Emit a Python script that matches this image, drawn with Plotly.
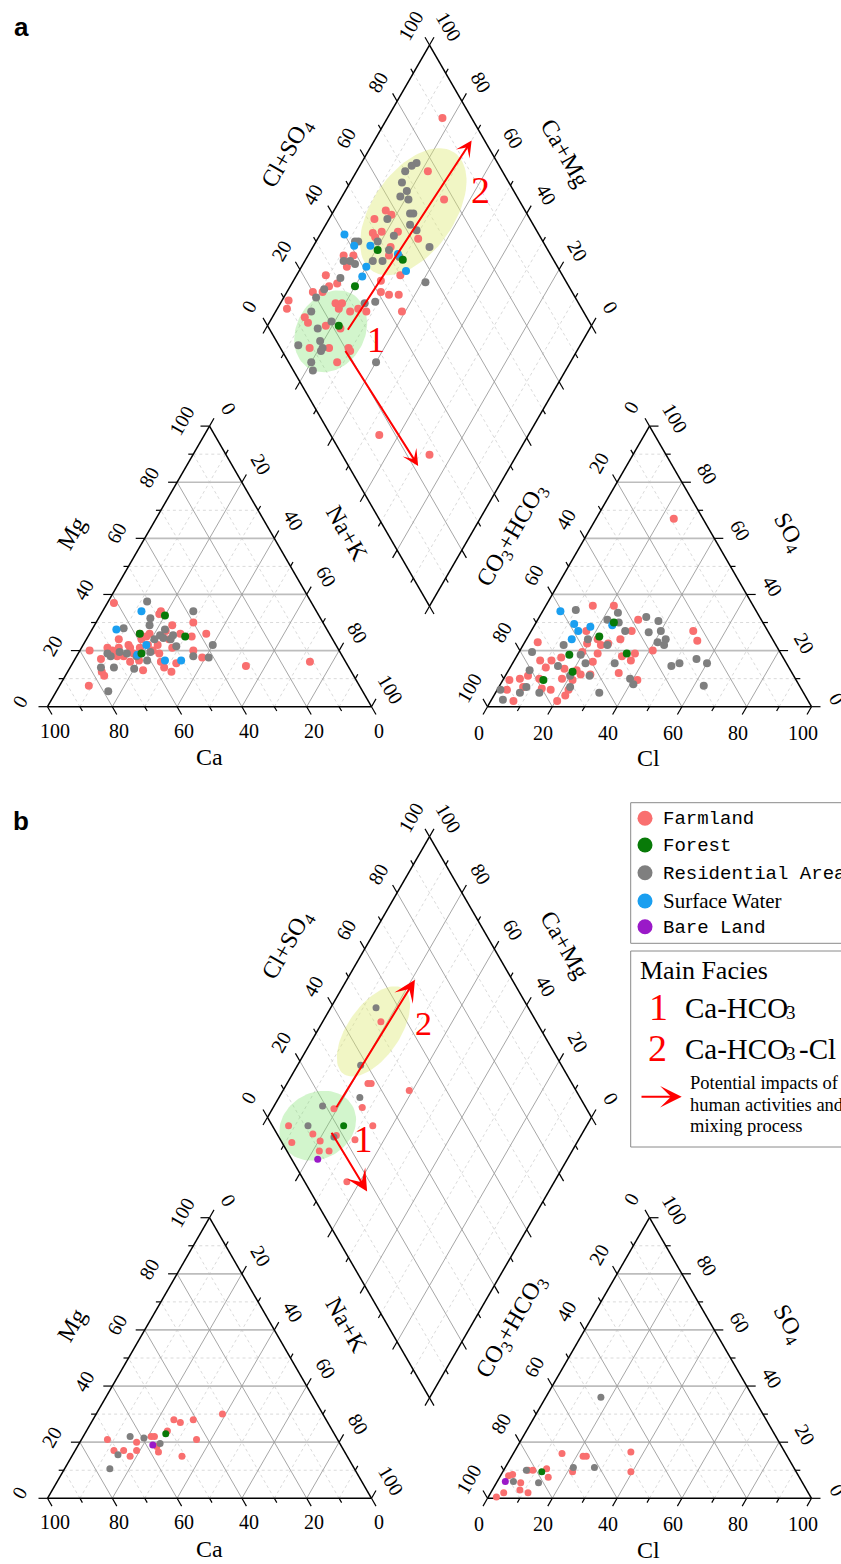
import numpy as np
import plotly.graph_objects as go

# ===================== DATA (percent of meq/L) =====================
# Cation triangle: (Mg, Na+K)   -> Ca = 100 - Mg - (Na+K)
# Anion triangle:  (SO4, Cl)    -> CO3+HCO3 = 100 - SO4 - Cl
# Diamond:         (Cl+SO4, Na+K)

# ---------- panel a ----------
A_CAT_FARMLAND = [(37, 2), (33, 18), (34, 18), (30, 30), (24, 10), (26, 36), (25, 32), (20, 3), (21, 8),
                  (17, 8), (21, 15), (24, 17), (25, 18), (16, 17.5), (11, 12), (12.5, 10.5), (7.5, 9),
                  (13, 23), (16, 27), (14, 29), (12.5, 32), (15.5, 32), (26, 28), (20, 35), (17.5, 39),
                  (14.5, 54), (20, 22.5), (19, 25), (19, 17), (18, 14.5), (21, 18), (22, 14), (26, 18.5),
                  (26, 15.5), (27, 23), (24, 25.5), (21, 28), (22, 23), (22, 20), (20, 10), (18, 12.5),
                  (16.5, 20), (21, 11.5), (29, 24), (16, 73)]
A_CAT_RESIDENTIAL = [(37.5, 12), (34, 28), (28, 9.5), (29, 17), (31.5, 16), (25.5, 22), (25.5, 26), (22, 40),
                     (18, 36), (17.5, 41), (18, 10.5), (19.5, 12.5), (14, 9.5), (14, 13.5), (13.5, 20),
                     (5.5, 16), (19.5, 22), (24, 21), (24.5, 23.5), (21.5, 29), (24, 26), (18, 18.5),
                     (16.5, 22.5), (19, 15), (19, 9), (27.5, 22.5)]
A_CAT_SURFACE = [(34, 12), (27.5, 7.5), (16.5, 28), (16.5, 33), (22, 19.5), (18.5, 18.5)]
A_CAT_FOREST = [(32.5, 20), (25, 30), (26, 15.5), (19, 19.5)]
A_CAT_BARE = []

A_AN_FARMLAND = [(36, 14.5), (36, 21), (31, 31), (27, 31), (27, 50), (23.5, 53), (23, 4), (27, 17), (24, 22),
                 (22.5, 26), (24, 29), (19.5, 19.5), (19, 24.5), (18, 32.5), (19, 36), (16.5, 36), (20, 41),
                 (12, 34.5), (9.5, 41.5), (16.5, 8), (14, 11), (16.5, 11.5), (17.5, 14), (13.5, 17), (10, 18),
                 (6, 22), (4, 22), (2, 20.5), (10, 11), (11, 7), (10, 5), (9.5, 2), (6, 3), (2, 7), (7, 7.5),
                 (6.5, 13.5), (6, 16.5), (13, 21), (11.5, 23), (11.5, 26), (9.5, 21.5), (16, 24.5),
                 (22.5, 19.5), (22, 24), (67, 24)]
A_AN_RESIDENTIAL = [(34.5, 10), (33.5, 23.5), (31, 21.5), (30, 25.5), (32, 33), (30.5, 37.5), (27, 29),
                    (26.5, 36.5), (27, 40), (23, 41), (24, 43), (22, 43.5), (17, 56), (15.5, 60), (14.5, 49.5),
                    (15.5, 51.5), (7.5, 63), (22, 12.5), (19.5, 4), (24, 19), (18.5, 19.5), (15.5, 22.5),
                    (14.5, 14.5), (13, 6.5), (11, 20), (11, 26), (15.5, 31.5), (10, 39), (8, 41), (5, 32),
                    (6, 1), (2.5, 3.5), (5, 7.5), (7, 8.5), (5, 13.5), (7, 22), (22, 26)]
A_AN_SURFACE = [(34, 5.5), (29.5, 12), (28.5, 17.5), (27, 14.5), (24, 14), (29, 24)]
A_AN_FOREST = [(30, 24), (25, 22), (19, 33.5), (18.5, 16), (12.5, 20), (9.5, 12.5)]
A_AN_BARE = []

A_DIA_FARMLAND = [(91, 17), (77, 22), (77, 32), (52, 14), (57, 16), (49, 16), (52, 18.5), (49, 17.5),
                  (58, 18.5), (57, 23.5), (62, 31), (50, 25), (36, 11), (39, 14), (35, 14), (27, 9), (29, 14),
                  (26, 12), (23, 11), (20, 8), (11, 2), (9, 3), (25, 17), (27, 19), (25, 19), (28, 23),
                  (31, 25), (33, 28), (41, 29), (43, 32), (46, 35), (43, 27), (44, 39), (50, 32), (13, 10),
                  (13, 12), (18, 18), (22, 23), (21, 29), (9, 17), (15, 23), (52, 24), (15, 54), (27, 73),
                  (21, 30), (15, 28)]
A_DIA_RESIDENTIAL = [(75, 17), (73, 16), (70, 15), (67, 16), (67, 19), (64, 18), (66, 21), (64, 24), (65, 25),
                     (62, 26), (63, 29), (64, 36), (55, 23), (56, 18), (49, 19), (51, 24), (44, 21), (47, 24),
                     (53, 28.5), (43, 13), (42, 12), (35, 12), (37, 14), (38, 16), (31, 14), (24, 11), (20, 10),
                     (16, 11), (15, 16), (20.5, 19), (6, 13), (13, 21), (13.5, 19), (7, 20), (27, 40),
                     (37.5, 29), (56.5, 41), (34, 26), (6, 22), (12, 21)]
A_DIA_SURFACE = [(40, 7.5), (41, 12.5), (46, 17.5), (41, 20), (38, 20.5), (53, 27.5), (52.5, 33)]
A_DIA_FOREST = [(47.5, 20.5), (53.5, 30), (34, 20), (22, 22)]
A_DIA_BARE = []

# ---------- panel b ----------
B_CAT_FARMLAND = [(21, 8), (17, 12), (17, 15), (15, 18), (20, 17.5), (17, 19), (22, 21), (22, 22), (18.5, 24.5),
                  (16.5, 26), (24, 25), (28, 25), (27, 27.5), (28, 31), (30, 39), (21, 35.5), (15, 34)]
B_CAT_RESIDENTIAL = [(15.5, 14), (10.5, 14), (22, 14.5), (21.5, 19), (19.5, 25)]
B_CAT_SURFACE = []
B_CAT_FOREST = [(23, 25)]
B_CAT_BARE = [(19, 23)]

B_AN_FARMLAND = [(16, 15), (15, 22), (15, 23), (16.5, 36), (9.5, 39.5), (9.5, 21.5), (10.5, 13), (7.5, 15),
                 (10, 7.5), (10, 9), (5.5, 7.5), (3, 8.5), (2, 11.5), (8, 2.5), (8.5, 3.5), (0.5, 2.5), (2, 4)]
B_AN_RESIDENTIAL = [(36, 17), (11, 21), (11, 27.5), (10, 7), (5.5, 13), (6, 5)]
B_AN_SURFACE = []
B_AN_FOREST = [(9.5, 12)]
B_AN_BARE = [(6, 2.5)]

B_DIA_FARMLAND = [(52, 18), (37, 25), (38, 26), (48.5, 39), (31, 27.5), (22, 19), (5, 8), (31, 34), (18, 24.5),
                  (11, 17), (3, 12), (12, 20.5), (23, 31), (10, 22), (13, 25), (13, 36)]
B_DIA_RESIDENTIAL = [(53, 14), (38, 19.5), (32, 25), (19, 15), (11, 14), (17, 24)]
B_DIA_SURFACE = []
B_DIA_FOREST = [(22, 25)]
B_DIA_BARE = [(8, 23)]

GROUPS = ["Farmland", "Forest", "Residential Area", "Surface Water", "Bare Land"]
COLORS = {"Farmland": "#F96F6F", "Forest": "#087A08", "Residential Area": "#7F7F7F",
          "Surface Water": "#1A9FF0", "Bare Land": "#9A19C8"}

PANEL_DATA = {
    "a": {"Farmland": (A_CAT_FARMLAND, A_AN_FARMLAND, A_DIA_FARMLAND),
          "Residential Area": (A_CAT_RESIDENTIAL, A_AN_RESIDENTIAL, A_DIA_RESIDENTIAL),
          "Surface Water": (A_CAT_SURFACE, A_AN_SURFACE, A_DIA_SURFACE),
          "Forest": (A_CAT_FOREST, A_AN_FOREST, A_DIA_FOREST),
          "Bare Land": (A_CAT_BARE, A_AN_BARE, A_DIA_BARE)},
    "b": {"Farmland": (B_CAT_FARMLAND, B_AN_FARMLAND, B_DIA_FARMLAND),
          "Residential Area": (B_CAT_RESIDENTIAL, B_AN_RESIDENTIAL, B_DIA_RESIDENTIAL),
          "Surface Water": (B_CAT_SURFACE, B_AN_SURFACE, B_DIA_SURFACE),
          "Forest": (B_CAT_FOREST, B_AN_FOREST, B_DIA_FOREST),
          "Bare Land": (B_CAT_BARE, B_AN_BARE, B_DIA_BARE)},
}
DRAW_ORDER = ["Farmland", "Residential Area", "Surface Water", "Forest", "Bare Land"]

# facies annotations in diamond coordinates (Cl+SO4, Na+K)
ARROWS = {"a": [((23.5, 25.5), (96, 30)), ((19.5, 28), (21.5, 71.5))],
          "b": [((22.5, 19.5), (70, 21)), ((17, 22), (17.5, 44))]}
ELLIPSES = {"a": [((18.5, 20.5), 43, 34, 60, "rgba(125,225,110,0.35)"),
                  ((65.3, 24.7), 72, 41, 55, "rgba(220,232,110,0.40)")],
            "b": [((14, 17), 40, 33, 30, "rgba(125,225,110,0.35)"),
                  ((48, 17.4), 52, 26, 55, "rgba(220,232,110,0.40)")]}
FACIES_LABELS = {"a": [("1", (31, 36), 36), ("2", (90, 41.5), 38)],
                 "b": [("1", (25.5, 33.5), 37), ("2", (65, 31.5), 34)]}
MARKER_SIZE = {"a": 8, "b": 7}
ARROW_SIZE = {"a": 1.35, "b": 1.8}

# ===================== GEOMETRY =====================
W, H = 841, 1564
SIDE = 324.0
S3 = np.sqrt(3) / 2
TH = SIDE * S3
X0 = 47.5
GAP = 116.0
BASE = {"a": 706.7, "b": 1498.3}
EL = np.array([-SIDE / 2, -TH])
ER = np.array([SIDE / 2, -TH])


def frame(base):
    rx = X0 + SIDE + GAP
    return {"lbl": np.array([X0, base]), "lbr": np.array([X0 + SIDE, base]),
            "ltop": np.array([X0 + SIDE / 2, base - TH]),
            "rbl": np.array([rx, base]), "rbr": np.array([rx + SIDE, base]),
            "rtop": np.array([rx + SIDE / 2, base - TH]),
            "dbot": np.array([X0 + SIDE + GAP / 2, base - GAP * S3])}


def cat_xy(g, mg, nak):
    ca = 100 - mg - nak
    return (ca * g["lbl"] + nak * g["lbr"] + mg * g["ltop"]) / 100


def an_xy(g, so4, cl):
    hco3 = 100 - so4 - cl
    return (hco3 * g["rbl"] + cl * g["rbr"] + so4 * g["rtop"]) / 100


def dia_xy(g, a, n):
    return g["dbot"] + (1 - n / 100) * EL + (a / 100) * ER


def seg_xy(segs):
    xs, ys = [], []
    for p, q in segs:
        xs += [p[0], q[0], None]
        ys += [p[1], q[1], None]
    return xs, ys


fig = go.Figure()
annotations = []
SERIF = "Liberation Serif"
MONO = "Liberation Mono"


def add_lines(segs, color, width, dash="solid"):
    xs, ys = seg_xy(segs)
    fig.add_trace(go.Scatter(x=xs, y=ys, mode="lines", line=dict(color=color, width=width, dash=dash),
                             hoverinfo="skip", showlegend=False))


def txt(x, y, s, size=20, angle=0, color="black", family=SERIF, xanchor="center", yanchor="middle"):
    annotations.append(dict(x=x, y=y, xref="x", yref="y", text=s, showarrow=False, textangle=angle,
                            font=dict(family=family, size=size, color=color),
                            xanchor=xanchor, yanchor=yanchor))


U = {"dr": np.array([0.5, S3]), "dl": np.array([-0.5, S3]), "ur": np.array([0.5, -S3]),
     "ul": np.array([-0.5, -S3]), "l": np.array([-1.0, 0]), "r": np.array([1.0, 0])}

for panel in ["a", "b"]:
    g = frame(BASE[panel])
    dy = BASE[panel] - BASE["a"]
    solid, hsolid, dashed, ticks, edges = [], [], [], [], []

    # triangle grids
    for (A, B, C) in [(g["lbl"], g["lbr"], g["ltop"]), (g["rbl"], g["rbr"], g["rtop"])]:
        for k in range(1, 10):
            t = k / 10
            tgt = solid if k % 2 == 0 else dashed
            tgt.append((t * A + (1 - t) * B, t * A + (1 - t) * C))
            tgt.append((t * B + (1 - t) * A, t * B + (1 - t) * C))
            (hsolid if k % 2 == 0 else dashed).append((t * C + (1 - t) * A, t * C + (1 - t) * B))
        edges += [(A, B), (B, C), (C, A)]
    # diamond grid
    for k in range(1, 10):
        v = k * 10
        tgt = solid if k % 2 == 0 else dashed
        tgt.append((dia_xy(g, v, 0), dia_xy(g, v, 100)))
        tgt.append((dia_xy(g, 0, v), dia_xy(g, 100, v)))
    D = [dia_xy(g, 0, 100), dia_xy(g, 0, 0), dia_xy(g, 100, 0), dia_xy(g, 100, 100)]
    edges += [(D[0], D[1]), (D[1], D[2]), (D[2], D[3]), (D[3], D[0])]

    # ticks: (position function of value, direction, label offset, label angle, labelled?)
    axes = [
        (lambda v: v / 100 * g["lbl"] + (1 - v / 100) * g["lbr"], U["dr"], (7, 24), 0, True),        # Ca
        (lambda v: v / 100 * g["ltop"] + (1 - v / 100) * g["lbl"], U["l"], (-28, -5), -60, True),    # Mg
        (lambda v: v / 100 * g["lbr"] + (1 - v / 100) * g["ltop"], U["ur"], (19, -18), 60, True),    # Na+K
        (lambda v: v / 100 * g["rbr"] + (1 - v / 100) * g["rbl"], U["dl"], (-9, 26), 0, True),       # Cl
        (lambda v: v / 100 * g["rbl"] + (1 - v / 100) * g["rtop"], U["ul"], (-18.5, -19), -60, True),  # HCO3
        (lambda v: v / 100 * g["rtop"] + (1 - v / 100) * g["rbr"], U["r"], (25.5, -8), 60, True),    # SO4
        (lambda v: dia_xy(g, v, 0), U["ul"], (-19, -19), -60, True),                                 # Cl+SO4
        (lambda v: dia_xy(g, 100, 100 - v), U["ur"], (19, -19), 60, True),                           # Ca+Mg
        (lambda v: dia_xy(g, 0, v), U["dl"], None, 0, False),
        (lambda v: dia_xy(g, v, 100), U["dr"], None, 0, False),
    ]
    for fn, d, off, ang, lab in axes:
        for k in range(0, 11):
            v = k * 10
            p = fn(v)
            ln = 9 if k % 2 == 0 else 5
            ticks.append((p, p + ln * d))
            if lab and k % 2 == 0:
                txt(p[0] + off[0], p[1] + off[1], str(v), size=20, angle=ang)

    add_lines(dashed, "#D0D0D0", 0.8, dash="3px,3px")
    add_lines(hsolid, "#BDBDBD", 1.7)
    add_lines(solid, "#9C9C9C", 0.9)

    # facies ellipses
    for (c, A_, B_, ang, col) in ELLIPSES[panel]:
        ctr = dia_xy(g, *c)
        th = np.linspace(0, 2 * np.pi, 90)
        r = np.deg2rad(ang)
        ex = ctr[0] + A_ * np.cos(th) * np.cos(r) - B_ * np.sin(th) * np.sin(r)
        ey = ctr[1] - (A_ * np.cos(th) * np.sin(r) + B_ * np.sin(th) * np.cos(r))
        fig.add_trace(go.Scatter(x=ex, y=ey, mode="lines", fill="toself", fillcolor=col,
                                 line=dict(width=0, color=col), hoverinfo="skip", showlegend=False))

    add_lines(edges, "black", 1.5)
    add_lines(ticks, "black", 1.2)

    # samples
    for grp in DRAW_ORDER:
        cat, an, dia = PANEL_DATA[panel][grp]
        pts = [cat_xy(g, *p) for p in cat] + [an_xy(g, *p) for p in an] + [dia_xy(g, *p) for p in dia]
        if not pts:
            continue
        pts = np.array(pts)
        fig.add_trace(go.Scatter(x=pts[:, 0], y=pts[:, 1], mode="markers", name=grp,
                                 marker=dict(size=MARKER_SIZE[panel], color=COLORS[grp], line=dict(width=0)),
                                 showlegend=False))

    # arrows
    for (s, e) in ARROWS[panel]:
        ps, pe = dia_xy(g, *s), dia_xy(g, *e)
        annotations.append(dict(x=pe[0], y=pe[1], ax=ps[0], ay=ps[1], xref="x", yref="y", axref="x",
                                ayref="y", text="", showarrow=True, arrowhead=3, arrowwidth=2,
                                arrowsize=ARROW_SIZE[panel], arrowcolor="#FF0000", standoff=0))
    for (s, c, sz) in FACIES_LABELS[panel]:
        p = dia_xy(g, *c)
        txt(p[0], p[1], s, size=sz, color="#FF0000")

    # axis titles
    txt(71.7, 533.3 + dy, "Mg", 24, -60)
    txt(346.7, 533.3 + dy, "Na+K", 24, 60)
    txt(209.5, 757.3 + dy, "Ca", 24, 0)
    txt(512, 535.5 + dy, "CO<sub>3</sub>+HCO<sub>3</sub>", 24, -60)
    txt(788.3, 533.3 + dy, "SO<sub>4</sub>", 24, 60)
    txt(648.3, 758.3 + dy, "Cl", 24, 0)
    txt(288.3, 153.3 + dy, "Cl+SO<sub>4</sub>", 24, -60)
    txt(565, 153.3 + dy, "Ca+Mg", 24, 60)

# panel letters
txt(21, 27, "<b>a</b>", 26, family="Liberation Sans")
txt(21, 821, "<b>b</b>", 26, family="Liberation Sans")

# ===================== LEGEND (drawn) =====================
LEG_Y = [818.3, 845, 872.7, 901, 926.7]
fig.add_trace(go.Scatter(x=[645] * 5, y=LEG_Y, mode="markers", hoverinfo="skip", showlegend=False,
                         marker=dict(size=15, color=[COLORS[gname] for gname in GROUPS], line=dict(width=0))))
for gname, yy in zip(GROUPS, LEG_Y):
    if gname == "Surface Water":
        txt(660.7, yy, gname, 21, family=SERIF, xanchor="left")
    else:
        txt(660.7, yy + 1, gname, 19, family=MONO, xanchor="left")

txt(638.3, 970, "Main Facies", 26, xanchor="left")
txt(658.3, 1006.5, "1", 38, color="#FF0000")
txt(657.3, 1048, "2", 38, color="#FF0000")
for yy, tail in [(1007.5, ""), (1049.3, "-Cl")]:
    txt(683.3, yy, "Ca-HCO", 29, xanchor="left")
    txt(784, yy + 4.5, "3", 19, xanchor="left")
    if tail:
        txt(796.5, yy, tail, 29, xanchor="left")
annotations.append(dict(x=681.7, y=1096.7, ax=640, ay=1096.7, xref="x", yref="y", axref="x", ayref="y",
                        text="", showarrow=True, arrowhead=3, arrowwidth=2, arrowsize=1.8,
                        arrowcolor="#FF0000", standoff=0))
txt(688.3, 1083.3, "Potential impacts of", 18.5, xanchor="left")
txt(688.3, 1104.5, "human activities and", 18.5, xanchor="left")
txt(688.3, 1125.5, "mixing process", 18.5, xanchor="left")

shapes = [dict(type="rect", xref="x", yref="y", x0=630.7, y0=802.7, x1=900, y1=943.3,
               line=dict(color="#8A8A8A", width=1)),
          dict(type="rect", xref="x", yref="y", x0=630.7, y0=951, x1=900, y1=1147,
               line=dict(color="#8A8A8A", width=1))]

fig.update_layout(width=W, height=H, margin=dict(l=0, r=0, t=0, b=0), autosize=False,
                  paper_bgcolor="white", plot_bgcolor="white", showlegend=False,
                  xaxis=dict(range=[0, W], visible=False, fixedrange=True),
                  yaxis=dict(range=[H, 0], visible=False, fixedrange=True),
                  annotations=annotations, shapes=shapes)
fig.write_html("out.html", config={"displayModeBar": False},
               post_script="document.body.style.margin='0px';document.body.style.overflow='hidden';")
